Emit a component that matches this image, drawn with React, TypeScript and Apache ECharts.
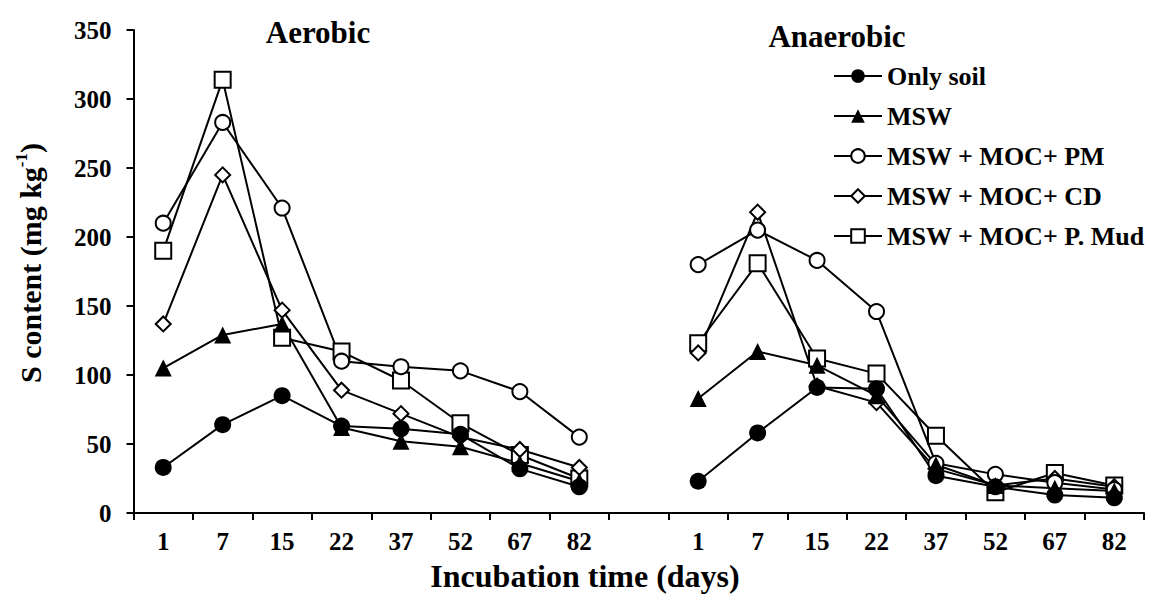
import React, { useEffect, useRef } from 'react';
import * as echarts from 'echarts';

// Category labels (incubation days); one empty category separates the two panels
const days = ['1', '7', '15', '22', '37', '52', '67', '82'];
const categories = [...days, '', ...days];

const yTicks = { min: 0, max: 350, interval: 50 };

const seriesNames = ['Only soil', 'MSW', 'MSW + MOC+ PM', 'MSW + MOC+ CD', 'MSW + MOC+ P. Mud'];

// Aerobic values (mg kg-1)
const aerobicOnlySoil = [33, 64, 85, 63, 61, 57, 32, 19];
const aerobicMSW = [105, 129, 137, 62, 52, 48, 36, 23];
const aerobicPM = [210, 283, 221, 110, 106, 103, 88, 55];
const aerobicCD = [137, 245, 147, 89, 72, 55, 46, 33];
const aerobicPMud = [190, 314, 127, 117, 96, 65, 42, 25];

// Anaerobic values (mg kg-1)
const anaerobicOnlySoil = [23, 58, 91, 90, 27, 19, 13, 11];
const anaerobicMSW = [83, 117, 107, 85, 35, 20, 18, 16];
const anaerobicPM = [180, 205, 183, 146, 36, 28, 22, 17];
const anaerobicCD = [116, 218, 92, 80, 32, 20, 25, 19];
const anaerobicPMud = [123, 181, 112, 101, 56, 15, 29, 20];

const FONT = '"Liberation Serif", "Times New Roman", serif';

function join(a: number[], b: number[]): (number | string)[] {
  return [...a, '-', ...b];
}

export default function App() {
  const ref = useRef<HTMLDivElement>(null);

  useEffect(() => {
    if (!ref.current) return;
    const chart = echarts.init(ref.current, undefined, { renderer: 'svg' });

    const lineStyle = { color: '#000', width: 2 };
    const open = { color: '#fff', borderColor: '#000', borderWidth: 2 };
    const filled = { color: '#000', borderColor: '#000', borderWidth: 0 };

    const defs = [
      { name: seriesNames[4], data: join(aerobicPMud, anaerobicPMud), symbol: 'rect', symbolSize: 16, itemStyle: open },
      { name: seriesNames[3], data: join(aerobicCD, anaerobicCD), symbol: 'diamond', symbolSize: 15, itemStyle: open },
      { name: seriesNames[2], data: join(aerobicPM, anaerobicPM), symbol: 'circle', symbolSize: 15, itemStyle: open },
      { name: seriesNames[1], data: join(aerobicMSW, anaerobicMSW), symbol: 'triangle', symbolSize: 17, itemStyle: filled },
      { name: seriesNames[0], data: join(aerobicOnlySoil, anaerobicOnlySoil), symbol: 'circle', symbolSize: 17, itemStyle: filled },
    ];

    chart.setOption({
      animation: false,
      backgroundColor: '#fff',
      grid: { left: 133.5, right: 10, top: 30, bottom: 83, containLabel: false },
      legend: {
        data: seriesNames,
        orient: 'vertical',
        left: 828,
        top: 57,
        itemWidth: 48,
        itemHeight: 17,
        itemGap: 12,
        selectedMode: false,
        textStyle: { fontFamily: FONT, fontWeight: 'bold', fontSize: 26, color: '#000', lineHeight: 28 },
      },
      xAxis: {
        type: 'category',
        data: categories,
        boundaryGap: true,
        axisLine: { show: true, lineStyle: { color: '#000', width: 2 } },
        axisTick: { show: true, interval: 0, length: 7, lineStyle: { color: '#000', width: 2 } },
        axisLabel: { interval: 0, margin: 16, fontFamily: FONT, fontWeight: 'bold', fontSize: 25, color: '#000' },
        splitLine: { show: false },
      },
      yAxis: {
        type: 'value',
        min: yTicks.min,
        max: yTicks.max,
        interval: yTicks.interval,
        axisLine: { show: true, lineStyle: { color: '#000', width: 2 } },
        axisTick: { show: true, length: 7, lineStyle: { color: '#000', width: 2 } },
        axisLabel: { margin: 22, fontFamily: FONT, fontWeight: 'bold', fontSize: 25, color: '#000' },
        splitLine: { show: false },
      },
      graphic: [
        {
          type: 'text',
          x: 318,
          y: 32,
          style: { text: 'Aerobic', font: `bold 31px ${FONT}`, fill: '#000', align: 'center', verticalAlign: 'middle' },
        },
        {
          type: 'text',
          x: 837,
          y: 36,
          style: { text: 'Anaerobic', font: `bold 31px ${FONT}`, fill: '#000', align: 'center', verticalAlign: 'middle' },
        },
        {
          type: 'text',
          x: 585,
          y: 576,
          style: { text: 'Incubation time (days)', font: `bold 32px ${FONT}`, fill: '#000', align: 'center', verticalAlign: 'middle' },
        },
        {
          type: 'text',
          x: 30,
          y: 263,
          rotation: Math.PI / 2,
          style: {
            text: '{a|S content (mg kg}{b|-1}{a|)}',
            align: 'center',
            verticalAlign: 'middle',
            rich: {
              a: { fontFamily: FONT, fontWeight: 'bold', fontSize: 30, fill: '#000', lineHeight: 34 },
              b: { fontFamily: FONT, fontWeight: 'bold', fontSize: 17, fill: '#000', verticalAlign: 'top', lineHeight: 20 },
            },
          },
        },
      ],
      series: defs.map((d) => ({
        type: 'line',
        name: d.name,
        data: d.data,
        symbol: d.symbol,
        symbolSize: d.symbolSize,
        showAllSymbol: true,
        connectNulls: false,
        lineStyle,
        itemStyle: d.itemStyle,
        emphasis: { disabled: true },
      })),
    });

    return () => chart.dispose();
  }, []);

  return <div ref={ref} style={{ position: 'fixed', left: 0, top: 0, width: 1154, height: 596 }} />;
}
